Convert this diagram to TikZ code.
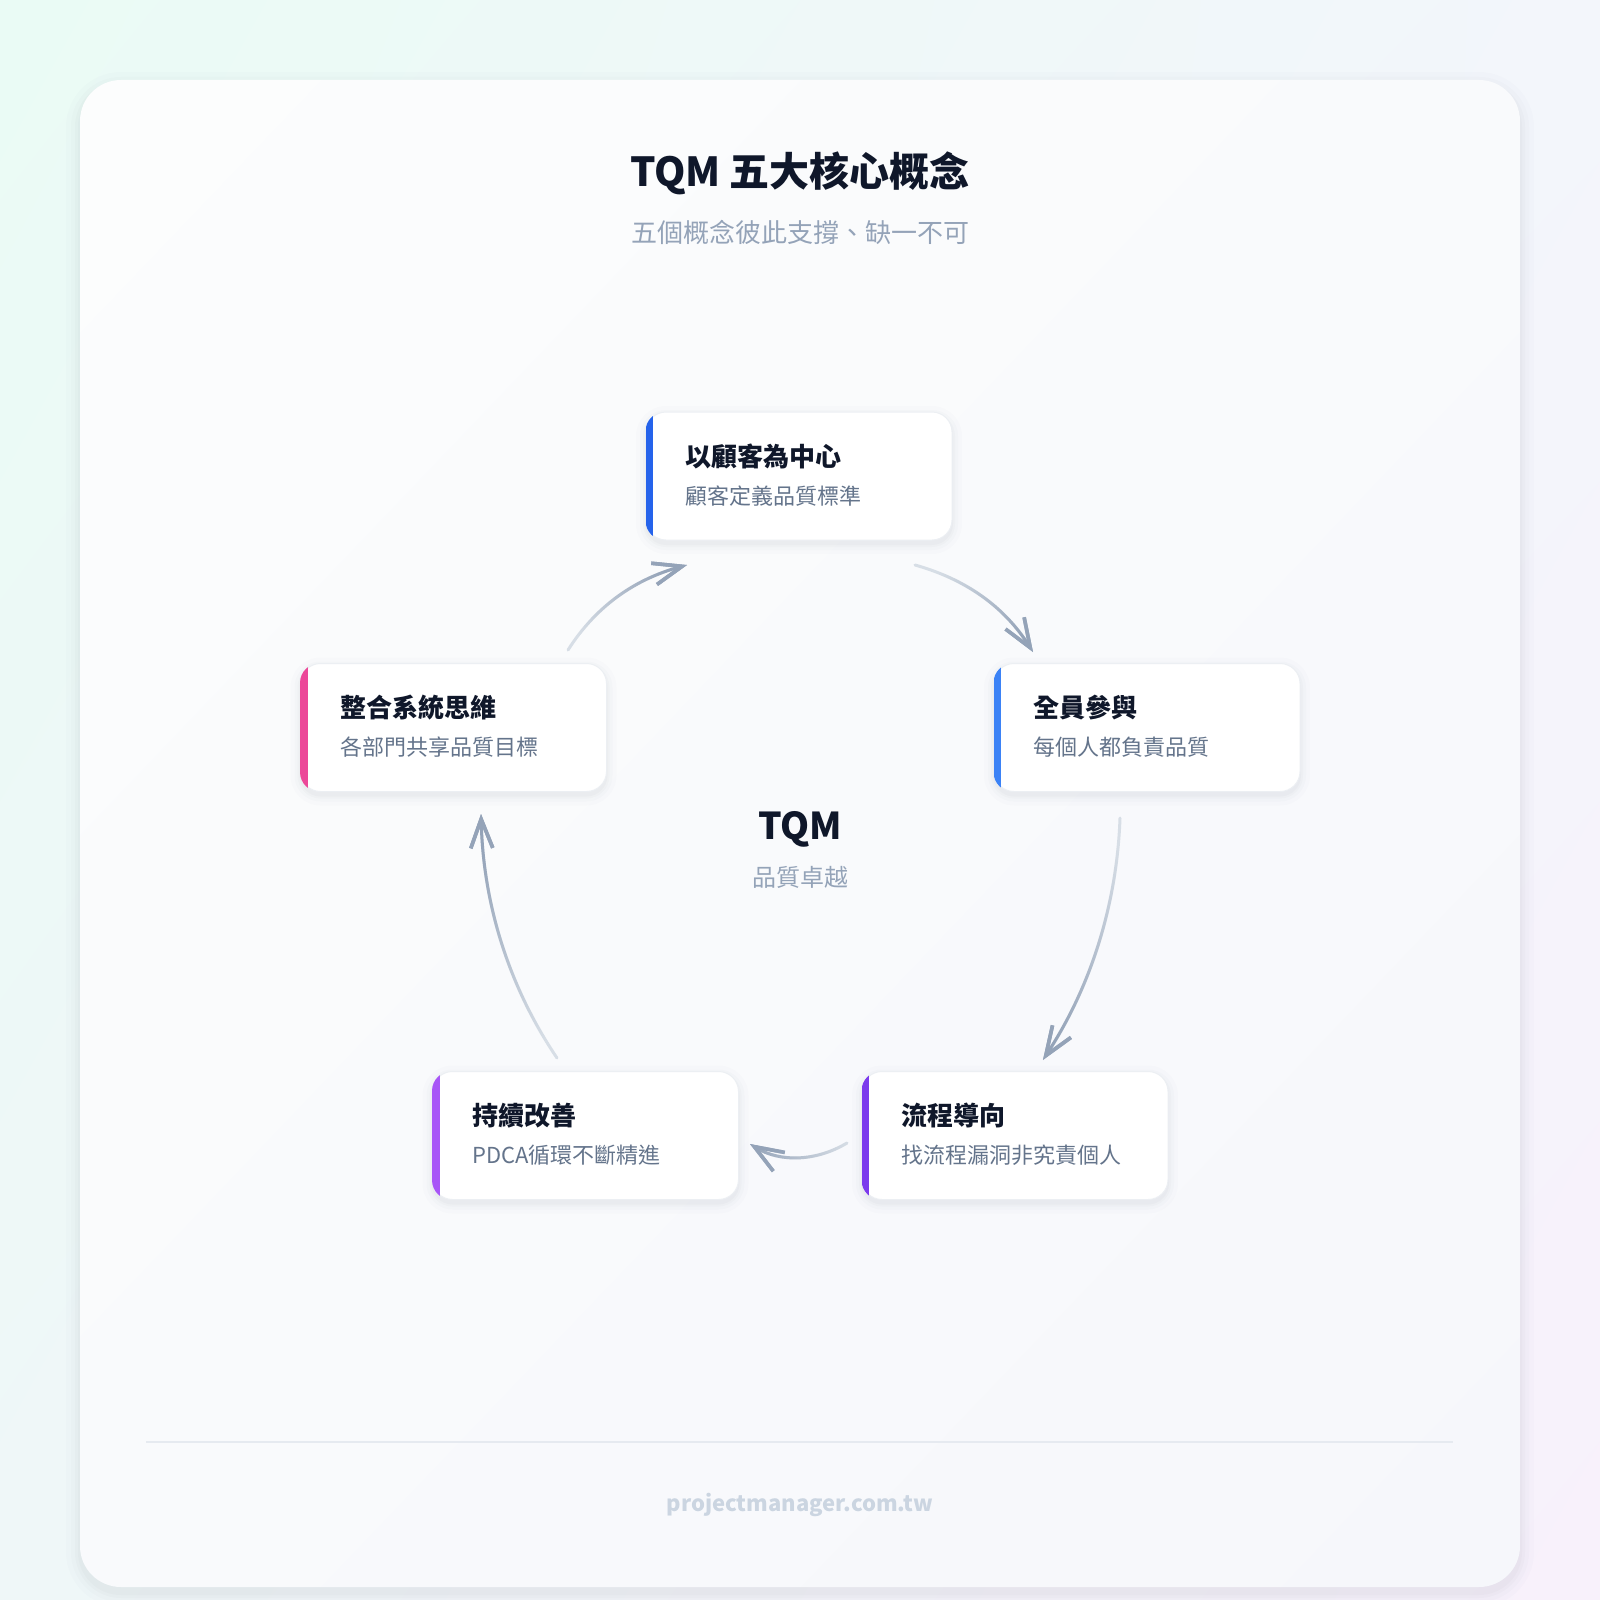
\documentclass[tikz,border=0pt]{standalone}
\usepackage{fontspec}
\setmainfont{Noto Sans CJK TC}
\usetikzlibrary{arrows.meta,fadings,shadings}
\tikzfading[name=myfaderight, left color=transparent!100, right color=transparent!0]
\definecolor{ink}{HTML}{0F172A}
\definecolor{subtle}{HTML}{94A3B8}
\definecolor{desc}{HTML}{64748B}
\definecolor{foot}{HTML}{CBD5E1}
\definecolor{rulec}{HTML}{E6EAF0}
\definecolor{cardborder}{HTML}{ECEFF3}
\definecolor{linelight}{HTML}{D7DEE6}
\definecolor{linedark}{HTML}{94A3B8}
\definecolor{shadowc}{HTML}{334155}
\definecolor{cblue}{HTML}{2563EB}
\definecolor{cblueb}{HTML}{3B82F6}
\definecolor{cviolet}{HTML}{7C3AED}
\definecolor{cpurple}{HTML}{A855F7}
\definecolor{cpink}{HTML}{EC4899}
\definecolor{bgul}{RGB}{234,251,245}
\definecolor{bgur}{RGB}{243,246,251}
\definecolor{bgll}{RGB}{239,247,248}
\definecolor{bglr}{RGB}{248,241,251}
\definecolor{cdul}{RGB}{252,253,253}
\definecolor{cdur}{RGB}{249,250,252}
\definecolor{cdll}{RGB}{249,250,252}
\definecolor{cdlr}{RGB}{246,247,251}
\begin{document}
\begin{tikzpicture}[x=1pt,y=-1pt,
  card/.style={draw=cardborder, line width=1pt, fill=white, rounded corners=20pt,
    minimum width=306pt, minimum height=128pt, inner sep=0pt},
  shadowlayer/.style={fill=shadowc, fill opacity=#1},
  ctitle/.style={anchor=west, text=ink, font=\fontsize{26}{26}\selectfont\bfseries, inner sep=0pt},
  cdesc/.style={anchor=west, text=desc, font=\fontsize{22}{22}\selectfont, inner sep=0pt},
  tipstyle/.style={-{Straight Barb[length=29pt, width=22pt, line width=3.6pt, color=linedark]}},
  conn/.style={line width=3pt, line cap=round, draw=linelight, tipstyle},
  conndark/.style={line width=3pt, line cap=round, draw=linedark, path fading=myfaderight, tipstyle},
]
\useasboundingbox (0,0) rectangle (1600,1600);
% page background
\shade[upper left=bgul, upper right=bgur, lower left=bgll, lower right=bglr]
  (0,0) rectangle (1600,1600);
% outer card with faint shadow
\foreach \e/\o in {14/0.012, 9/0.015, 5/0.018, 2/0.02}
  \fill[shadowc, fill opacity=\o, rounded corners=41pt+\e pt] (80-\e,80-\e+6) rectangle (1520+\e,1587+\e+6);
\shade[rounded corners=41pt, upper left=cdul, upper right=cdur, lower left=cdll, lower right=cdlr]
  (80,80) rectangle (1520,1587);

% titles
\node[text=ink, font=\fontsize{40}{40}\selectfont\bfseries] (title) at (800,173) {TQM 五大核心概念};
\node[text=subtle, font=\fontsize{26}{26}\selectfont] (subtitle) at (800,232) {五個概念彼此支撐、缺一不可};

% center
\node[text=ink, font=\fontsize{37}{37}\selectfont\bfseries] (tqm) at (800,829) {TQM};
\node[text=subtle, font=\fontsize{24}{24}\selectfont] (tqmsub) at (800,877) {品質卓越};

% cards
\newcommand{\tqmcard}[5]{%
  \path (#2) coordinate (#1c);
  \foreach \e/\o in {10/0.012, 6/0.016, 3/0.02, 1/0.025}
    \fill[shadowc, fill opacity=\o, rounded corners=20pt+\e pt]
      ([xshift=-153pt-\e pt, yshift=-64pt-\e pt-4pt]#1c) rectangle ([xshift=153pt+\e pt, yshift=64pt+\e pt-4pt]#1c);
  \node[card] (#1) at (#1c) {};
  \begin{scope}
    \clip[rounded corners=20pt] (#1.south west) rectangle (#1.north east);
    \fill[#3] (#1.south west) rectangle ([xshift=7.5pt]#1.north west);
  \end{scope}
  \node[ctitle] (#1t) at ([xshift=40pt, yshift=20pt]#1.west) {#4};
  \node[cdesc] (#1d) at ([xshift=40pt, yshift=-20pt]#1.west) {#5};
}
\tqmcard{top}{799,476}{cblue}{以顧客為中心}{顧客定義品質標準}
\tqmcard{right}{1147,727.5}{cblueb}{全員參與}{每個人都負責品質}
\tqmcard{br}{1015,1135.5}{cviolet}{流程導向}{找流程漏洞非究責個人}
\tqmcard{bl}{585.5,1135.5}{cpurple}{持續改善}{PDCA循環不斷精進}
\tqmcard{left}{453.5,727.5}{cpink}{整合系統思維}{各部門共享品質目標}

% connector end points
\coordinate (a1s) at (568,650);  \coordinate (a1e) at (687,565);
\coordinate (a2s) at (915,565);  \coordinate (a2e) at (1033,652);
\coordinate (a3s) at (1120,818); \coordinate (a3e) at (1043,1060);
\coordinate (a4s) at (847,1143); \coordinate (a4e) at (750,1144);
\coordinate (a5s) at (557,1058); \coordinate (a5e) at (481,814);

\draw[conn] (a1s) .. controls (596,606) and (635,579) .. (a1e);
\draw[conndark, fading angle=36] (a1s) .. controls (596,606) and (635,579) .. (a1e);
\draw[conn] (a2s) .. controls (965,579) and (1004,606) .. (a2e);
\draw[conndark, fading angle=-36] (a2s) .. controls (965,579) and (1004,606) .. (a2e);
\draw[conn] (a3s) .. controls (1117,904) and (1091,987) .. (a3e);
\draw[conndark, fading angle=-108] (a3s) .. controls (1117,904) and (1091,987) .. (a3e);
\draw[conn] (a4s) .. controls (817,1161) and (781,1163) .. (a4e);
\draw[conndark, fading angle=180] (a4s) .. controls (817,1161) and (781,1163) .. (a4e);
\draw[conn] (a5s) .. controls (509,987) and (483,904) .. (a5e);
\draw[conndark, fading angle=108] (a5s) .. controls (509,987) and (483,904) .. (a5e);

% footer
\coordinate (rl) at (146,1442); \coordinate (rr) at (1453,1442);
\draw[rulec, line width=1.6pt] (rl) -- (rr);
\node[text=foot, font=\fontsize{22}{22}\selectfont\bfseries] (footer) at (800,1505) {projectmanager.com.tw};
\end{tikzpicture}
\end{document}
